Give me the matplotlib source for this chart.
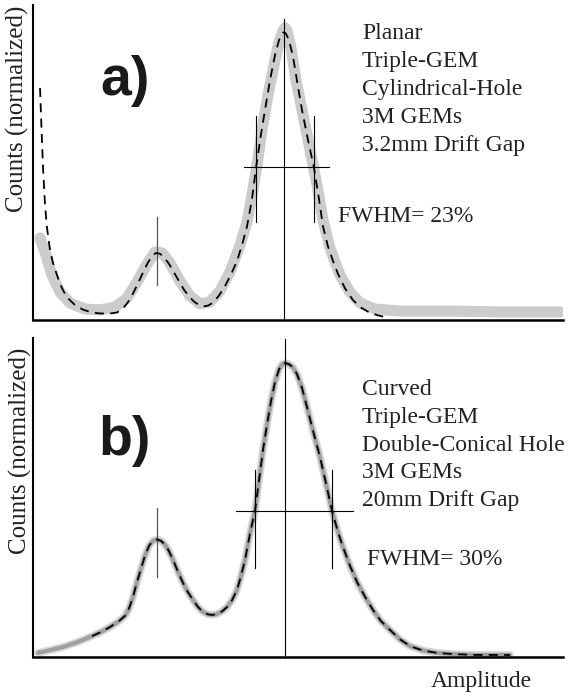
import matplotlib
matplotlib.use("Agg")
import matplotlib.pyplot as plt

# Pulse-height spectra (amplitude in channels, counts normalized to main peak)
# a) planar triple-GEM, cylindrical holes
data_a_ch = [7, 12, 19, 27, 37, 52, 67, 82, 94, 104, 114, 122, 129, 137, 147, 157,
             167, 177, 187, 197, 207, 214, 219, 224, 229, 235, 242, 246, 250, 252, 254,
             258, 263, 270, 277, 284, 290, 297, 307, 317, 327, 342, 367, 417, 467, 527]
data_a_counts = [0.285, 0.236, 0.156, 0.097, 0.059, 0.038, 0.035, 0.045, 0.076, 0.132,
                 0.194, 0.236, 0.233, 0.198, 0.135, 0.083, 0.056, 0.0625, 0.101, 0.167,
                 0.260, 0.340, 0.434, 0.538, 0.660, 0.781, 0.903, 0.965, 1.005, 1.015,
                 1.005, 0.945, 0.833, 0.712, 0.590, 0.469, 0.347, 0.250, 0.156, 0.097,
                 0.059, 0.038, 0.031, 0.031, 0.028, 0.028]

fit_a_ch = [7, 9, 10, 12, 14, 17, 20, 24, 27, 31, 36, 42, 50, 58, 66, 76, 84, 90, 95,
            100, 105, 110, 115, 119, 123, 127, 131, 136, 141, 146, 151, 156, 161, 166,
            170, 175, 180, 186, 192, 198, 204, 209, 214, 219, 223, 228, 232, 237, 242,
            246, 249, 251, 253, 256, 260, 265, 269, 275, 281, 286, 290, 295, 300, 305,
            312, 320, 328, 336, 344, 352]
fit_a_counts = [0.806, 0.620, 0.531, 0.400, 0.320, 0.243, 0.198, 0.156, 0.125, 0.097,
                0.072, 0.052, 0.036, 0.027, 0.023, 0.022, 0.026, 0.040, 0.062, 0.092,
                0.127, 0.165, 0.200, 0.222, 0.233, 0.230, 0.218, 0.195, 0.165, 0.135,
                0.105, 0.082, 0.064, 0.052, 0.047, 0.050, 0.060, 0.085, 0.118, 0.158,
                0.205, 0.260, 0.325, 0.420, 0.528, 0.645, 0.729, 0.833, 0.920, 0.972,
                0.994, 1.0, 0.994, 0.972, 0.915, 0.810, 0.729, 0.625, 0.528, 0.420,
                0.325, 0.255, 0.205, 0.160, 0.110, 0.069, 0.043, 0.027, 0.017, 0.010]

# b) curved triple-GEM, double-conical holes
fit_b_ch = [59, 68, 77, 86, 92, 96, 100, 104, 108, 112, 116, 120, 124, 128, 132, 136,
            140, 145, 150, 155, 160, 165, 170, 175, 179, 184, 189, 194, 199, 204, 208,
            212, 217, 222, 226, 230, 234, 238, 242, 246, 249, 252, 256, 260, 264, 269,
            274, 280, 287, 293, 299, 305, 310, 317, 324, 332, 340, 348, 357, 367, 377,
            390, 404, 420, 442, 477]
fit_b_counts = [0.071, 0.085, 0.102, 0.122, 0.140, 0.165, 0.204, 0.255, 0.300, 0.345,
                0.378, 0.395, 0.400, 0.395, 0.382, 0.360, 0.330, 0.290, 0.252, 0.220,
                0.194, 0.170, 0.153, 0.145, 0.143, 0.146, 0.155, 0.170, 0.193, 0.228,
                0.275, 0.330, 0.420, 0.497, 0.600, 0.704, 0.790, 0.870, 0.935, 0.978,
                0.995, 1.0, 0.996, 0.985, 0.962, 0.915, 0.850, 0.770, 0.680, 0.590,
                0.497, 0.425, 0.374, 0.310, 0.255, 0.205, 0.160, 0.122, 0.092, 0.060,
                0.037, 0.022, 0.014, 0.010, 0.007, 0.007]

# measured spectrum b follows the fit closely; it starts lower in amplitude
data_b_ch = [5, 18, 30, 44] + fit_b_ch
data_b_counts = [0.014, 0.024, 0.034, 0.050] + fit_b_counts

# peak positions, half-maximum crossings and resolution
peak1_a, peak_a, fwhm_lo_a, fwhm_hi_a, half_a = 124, 251, 223, 281, 0.53
peak1_b, peak_b, fwhm_lo_b, fwhm_hi_b, half_b = 124, 252, 222, 299, 0.497
fwhm_pct_a, fwhm_pct_b = 23, 30

labels_a = ["Planar", "Triple-GEM", "Cylindrical-Hole", "3M GEMs", "3.2mm Drift Gap"]
labels_b = ["Curved", "Triple-GEM", "Double-Conical Hole", "3M GEMs", "20mm Drift Gap"]

W, H = 573, 696
fig = plt.figure(figsize=(W / 100, H / 100), dpi=100)
serif = "Liberation Serif"

ax_a = fig.add_axes([33 / W, 1 - 320 / H, 530 / W, 315 / H])
ax_b = fig.add_axes([33 / W, 1 - 657 / H, 530 / W, 319 / H])

for ax in (ax_a, ax_b):
    ax.set_xlim(0, 530)
    ax.set_xticks([])
    ax.set_yticks([])
    ax.spines["top"].set_visible(False)
    ax.spines["right"].set_visible(False)
    ax.spines["left"].set_linewidth(1.5)
    ax.spines["bottom"].set_linewidth(1.8)
    ax.patch.set_alpha(0)

ax_a.set_ylim(0, 1.094)
ax_b.set_ylim(0, 1.085)

# measured spectra
ax_a.plot(data_a_ch, data_a_counts, color="#cccccc", lw=8, solid_capstyle="round",
          solid_joinstyle="round", zorder=1)
ax_b.plot(data_b_ch, data_b_counts, color="#cfcfcf", lw=5.5, alpha=0.8,
          solid_capstyle="round", solid_joinstyle="round", zorder=1)
ax_b.plot(data_b_ch, data_b_counts, color="#a0a0a0", lw=3, solid_capstyle="round",
          solid_joinstyle="round", zorder=1)

# fits
ax_a.plot(fit_a_ch, fit_a_counts, color="black", lw=1.3, dashes=(5, 3.5), zorder=3)
ax_b.plot(fit_b_ch, fit_b_counts, color="black", lw=1.3, dashes=(5, 3.5), zorder=3)

# peak and FWHM markers
ax_a.plot([peak_a, peak_a], [0, 1.045], color="black", lw=0.8, zorder=2)
ax_a.plot([211, 296], [half_a, half_a], color="black", lw=0.8, zorder=2)
for x in (fwhm_lo_a, fwhm_hi_a):
    ax_a.plot([x, x], [0.34, 0.708], color="black", lw=0.8, zorder=2)
ax_a.plot([peak1_a, peak1_a], [0.122, 0.358], color="#555555", lw=0.9, zorder=2)

ax_b.plot([peak_b, peak_b], [0, 1.082], color="black", lw=0.8, zorder=2)
ax_b.plot([203, 320], [half_b, half_b], color="black", lw=0.8, zorder=2)
for x in (fwhm_lo_b, fwhm_hi_b):
    ax_b.plot([x, x], [0.303, 0.636], color="black", lw=0.8, zorder=2)
ax_b.plot([peak1_b, peak1_b], [0.272, 0.507], color="#555555", lw=0.9, zorder=2)

# annotations
for i, s in enumerate(labels_a):
    ax_a.text(329, 0.976 - i * 0.0972, s, fontsize=17, family=serif,
              ha="left", va="baseline", color="#222222")
for i, s in enumerate(labels_b):
    ax_b.text(329, 0.891 - i * 0.0944, s, fontsize=17, family=serif,
              ha="left", va="baseline", color="#222222")

ax_a.text(305, 0.340, f"FWHM= {fwhm_pct_a}%", fontsize=17, family=serif,
          ha="left", va="baseline", color="#222222")
ax_b.text(334, 0.313, f"FWHM= {fwhm_pct_b}%", fontsize=17, family=serif,
          ha="left", va="baseline", color="#222222")

ax_a.text(67, 0.781, "a)", fontsize=40, family="Liberation Sans", weight="bold",
          ha="left", va="baseline", color="#1a1a1a")
ax_b.text(65, 0.687, "b)", fontsize=40, family="Liberation Sans", weight="bold",
          ha="left", va="baseline", color="#1a1a1a")

fig.text(17 / W, 1 - 109 / H, "Counts (normalized)", rotation=90, fontsize=18,
         family=serif, ha="center", va="center", color="#222222")
fig.text(20 / W, 1 - 451 / H, "Counts (normalized)", rotation=90, fontsize=18,
         family=serif, ha="center", va="center", color="#222222")
fig.text(481 / W, 1 - 687 / H, "Amplitude", fontsize=17, family=serif,
         ha="center", va="baseline", color="#222222")

fig.savefig("out.png", dpi=100, facecolor="white")
